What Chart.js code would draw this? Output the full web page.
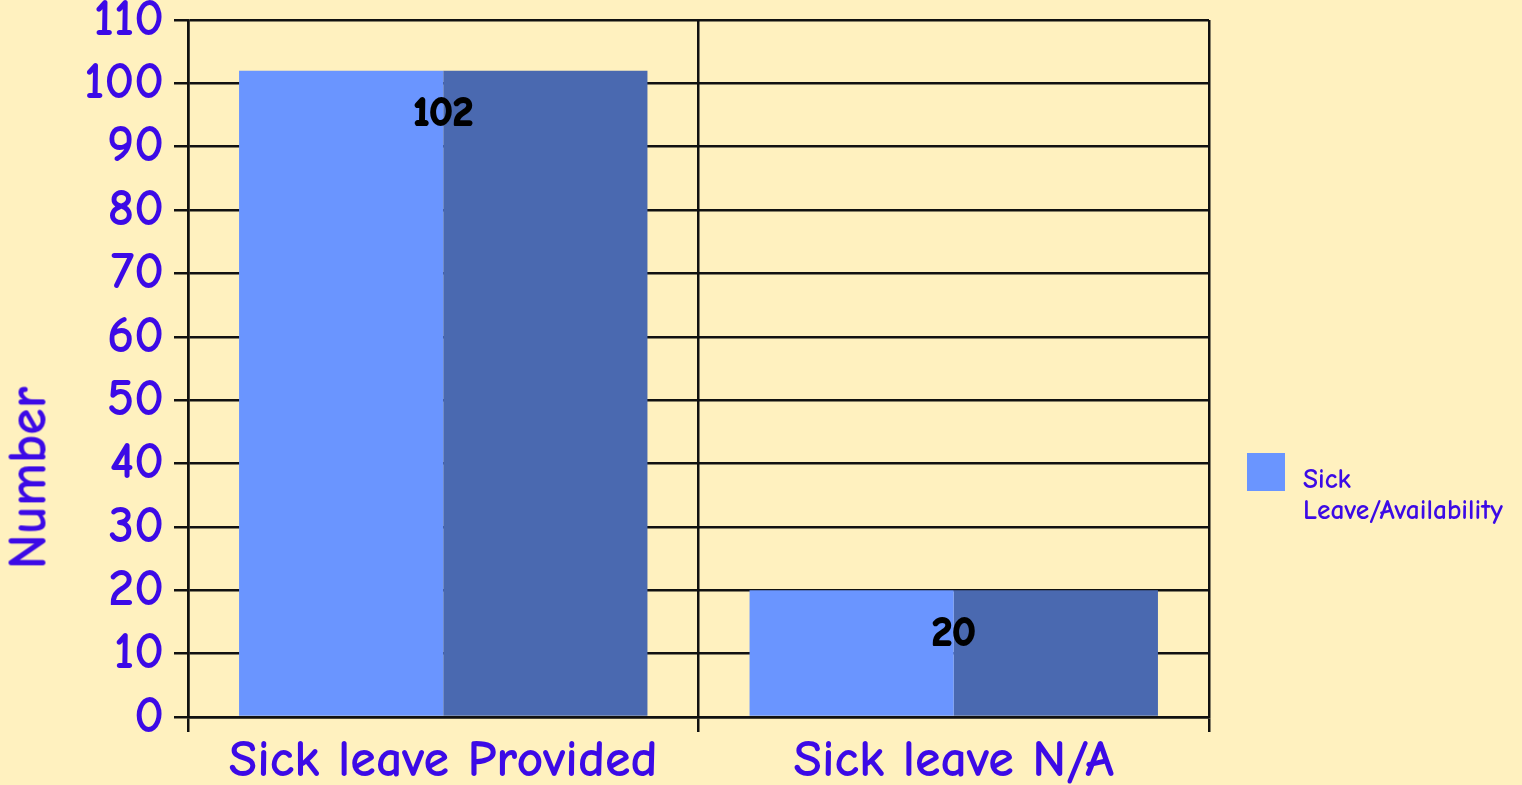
<!DOCTYPE html>
<html>
<head>
<meta charset="utf-8">
<script src="https://cdn.jsdelivr.net/npm/chart.js@4"></script>
<style>
  html, body { margin: 0; padding: 0; background: #FFF1BF; }
  #wrap { position: relative; width: 1522px; height: 785px; overflow: hidden; }
  #chart { position: absolute; left: 0; top: 0; }
  .txt { font-family: 'Comic Sans MS', 'Comic Neue', 'Lato', sans-serif; color: #3C0AE6; font-weight: bold; }
  #ytitle {
    position: absolute; left: 28px; top: 478px; font-size: 54px; white-space: nowrap;
    transform: translate(-50%, -50%) rotate(-90deg);
  }
  #legend { position: absolute; left: 1247px; top: 453px; }
  #legend .box { position: absolute; left: 0; top: 0; width: 38px; height: 38px; }
  #legend .lbl { position: absolute; left: 56px; top: 11px; width: 270px; font-size: 27.5px; line-height: 31px; }
</style>
</head>
<body>
<div id="wrap">
  <canvas id="chart" width="1522" height="785"></canvas>
  <div id="ytitle" class="txt">Number</div>
  <div id="legend"></div>
</div>
<script>
// chart data
const categories = ['Sick leave Provided', 'Sick leave N/A'];
const seriesName = 'Sick Leave/Availability';
const values = [102, 20];
const yMin = 0, yMax = 110, yStep = 10;

const LIGHT = '#6A95FF';
const DARK = '#4A69B0';
const TEXT = '#3C0AE6';
const FONT = "'Comic Sans MS', 'Comic Neue', 'Lato', sans-serif";

// value labels centred on the split between the two bar halves
const valueLabels = {
    id: 'valueLabels',
    afterDatasetsDraw(chart) {
        const ctx = chart.ctx;
        const left = chart.getDatasetMeta(0).data;
        ctx.save();
        ctx.fillStyle = '#000';
        ctx.strokeStyle = '#000';
        ctx.lineWidth = 2;
        ctx.lineJoin = 'round';
        ctx.font = `bold 41px ${FONT}`;
        ctx.textAlign = 'center';
        ctx.textBaseline = 'middle';
        left.forEach((bar, i) => {
            const x = bar.x + bar.width / 2;
            ctx.strokeText(String(values[i]), x, bar.y + 43);
            ctx.fillText(String(values[i]), x, bar.y + 43);
        });
        ctx.restore();
    }
};

const chart = new Chart(document.getElementById('chart'), {
    type: 'bar',
    data: {
        labels: categories,
        datasets: [
            { label: seriesName, data: values, backgroundColor: LIGHT, borderWidth: 0 },
            { label: seriesName, data: values, backgroundColor: DARK, borderWidth: 0 }
        ]
    },
    options: {
        responsive: false,
        animation: false,
        devicePixelRatio: 1,
        layout: { padding: { left: 0, right: 313, top: 0, bottom: 0 } },
        datasets: { bar: { categoryPercentage: 0.8, barPercentage: 1.0 } },
        plugins: { legend: { display: false }, tooltip: { enabled: false } },
        scales: {
            x: {
                afterFit(s) { s.height = 68; s.paddingLeft = 0; s.paddingRight = 0; },
                grid: { color: '#111', lineWidth: 2.5, tickLength: 15, offset: true },
                border: { color: '#111', width: 2.5 },
                ticks: { color: TEXT, font: { family: FONT, size: 52, weight: 'bold' }, padding: -2, maxRotation: 0, autoSkip: false }
            },
            y: {
                min: yMin, max: yMax,
                afterFit(s) { s.width = 188; s.paddingTop = 20; s.paddingBottom = 0; },
                grid: { color: '#111', lineWidth: 2.5, tickLength: 14 },
                border: { color: '#111', width: 2.5 },
                ticks: { stepSize: yStep, color: TEXT, font: { family: FONT, size: 52, weight: 'bold' }, padding: 10, autoSkip: false }
            }
        }
    },
    plugins: [valueLabels]
});

// legend only for the series (first dataset), wrapped after the first word
const legend = document.getElementById('legend');
const sp = seriesName.indexOf(' ');
legend.innerHTML = `<div class="box" style="background:${LIGHT}"></div>
  <div class="lbl txt">${seriesName.slice(0, sp)}<br>${seriesName.slice(sp + 1)}</div>`;
</script>
</body>
</html>
